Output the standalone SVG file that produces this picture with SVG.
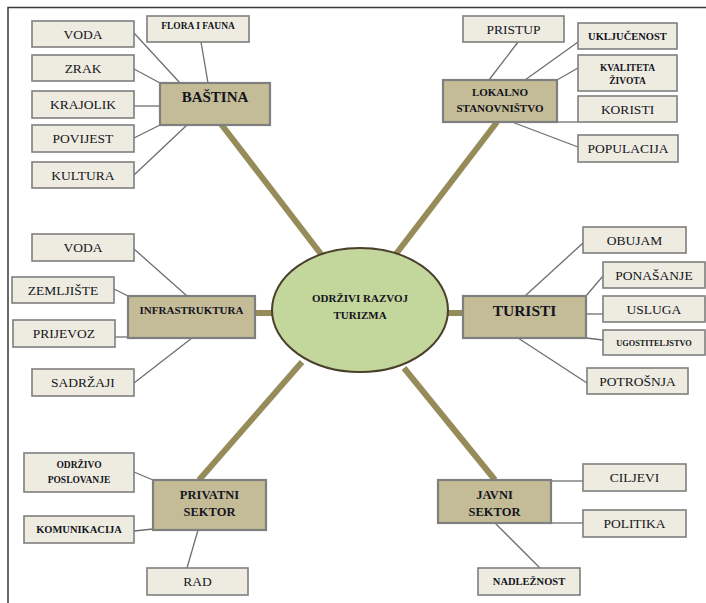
<svg xmlns="http://www.w3.org/2000/svg" width="706" height="603" viewBox="0 0 706 603">
<style>
.frame{stroke:#3a3a3a;stroke-width:1.5;fill:none}
.main{fill:#c4bc96;stroke:#7f7f7f;stroke-width:2.2}
.leaf{fill:#eeece1;stroke:#7f7f7f;stroke-width:1.6}
.thick{stroke:#968c5a;stroke-width:6;fill:none}
.thin{stroke:#6e6e6e;stroke-width:1.3;fill:none}
text{font-family:"Liberation Serif","Times New Roman",serif;fill:#141420;text-anchor:middle}
.t{font-size:13.5px}
.b{font-weight:bold}
.s{font-weight:bold;font-size:9.5px}
.s2{font-weight:bold;font-size:10.5px}
</style>
<rect width="706" height="603" fill="#ffffff"/>
<path class="frame" d="M8,603 V7.5 H706"/>
<g id="connectors">
<line class="thick" x1="221" y1="124" x2="324" y2="258"/>
<line class="thick" x1="497" y1="122" x2="396" y2="254"/>
<line class="thick" x1="255" y1="313" x2="273" y2="313"/>
<line class="thick" x1="447" y1="313" x2="463" y2="313"/>
<line class="thick" x1="302" y1="362" x2="199" y2="480"/>
<line class="thick" x1="404" y1="368" x2="495" y2="480"/>
<line class="thin" x1="134" y1="33" x2="180" y2="83"/>
<line class="thin" x1="201" y1="42" x2="208" y2="83"/>
<line class="thin" x1="134" y1="69" x2="160" y2="83"/>
<line class="thin" x1="134" y1="106" x2="160" y2="106"/>
<line class="thin" x1="134" y1="138" x2="160" y2="125"/>
<line class="thin" x1="134" y1="175" x2="187" y2="125"/>
<line class="thin" x1="518" y1="42" x2="489" y2="80"/>
<line class="thin" x1="578" y1="42" x2="525" y2="80"/>
<line class="thin" x1="578" y1="68" x2="557" y2="80"/>
<line class="thin" x1="557" y1="122" x2="578" y2="122"/>
<line class="thin" x1="512" y1="122" x2="578" y2="147"/>
<line class="thin" x1="134" y1="249" x2="187" y2="296"/>
<line class="thin" x1="114" y1="289" x2="128" y2="296"/>
<line class="thin" x1="115" y1="337" x2="128" y2="337"/>
<line class="thin" x1="134" y1="383" x2="192" y2="338"/>
<line class="thin" x1="583" y1="243" x2="525" y2="296"/>
<line class="thin" x1="603" y1="276" x2="586" y2="296"/>
<line class="thin" x1="586" y1="314" x2="603" y2="314"/>
<line class="thin" x1="586" y1="338" x2="603" y2="340"/>
<line class="thin" x1="518" y1="338" x2="587" y2="383"/>
<line class="thin" x1="134" y1="472" x2="153" y2="480"/>
<line class="thin" x1="134" y1="531" x2="153" y2="529"/>
<line class="thin" x1="187" y1="568" x2="198" y2="530"/>
<line class="thin" x1="551" y1="481" x2="583" y2="481"/>
<line class="thin" x1="551" y1="523" x2="583" y2="523"/>
<line class="thin" x1="495" y1="523" x2="540" y2="568"/>
</g>
<g id="center">
<ellipse cx="360" cy="310" rx="88" ry="62" fill="#c3d69b" stroke="#4a3f2a" stroke-width="2"/>
<text class="b" x="360" y="302" font-size="11">ODRŽIVI RAZVOJ</text>
<text class="b" x="360" y="319" font-size="11">TURIZMA</text>
</g>
<g id="bastina">
<rect class="main" x="160" y="83" width="110" height="42"/>
<text class="b" x="215" y="102" font-size="15">BAŠTINA</text>
</g>
<g id="b-voda"><rect class="leaf" x="32" y="21" width="102" height="26"/><text class="t" x="83" y="38.5">VODA</text></g>
<g id="b-flora"><rect class="leaf" x="147" y="16" width="102" height="26"/><text class="s" x="198" y="29">FLORA I FAUNA</text></g>
<g id="b-zrak"><rect class="leaf" x="32" y="55" width="102" height="26"/><text class="t" x="83" y="72.5">ZRAK</text></g>
<g id="b-krajolik"><rect class="leaf" x="32" y="91" width="102" height="27"/><text class="t" x="83" y="109">KRAJOLIK</text></g>
<g id="b-povijest"><rect class="leaf" x="32" y="125" width="102" height="27"/><text class="t" x="83" y="143">POVIJEST</text></g>
<g id="b-kultura"><rect class="leaf" x="32" y="162" width="102" height="26"/><text class="t" x="83" y="179.5">KULTURA</text></g>
<g id="lokalno">
<rect class="main" x="443" y="80" width="114" height="42"/>
<text class="b" x="500" y="96" font-size="11">LOKALNO</text>
<text class="b" x="500" y="112" font-size="11">STANOVNIŠTVO</text>
</g>
<g id="l-pristup"><rect class="leaf" x="463" y="16" width="101" height="26"/><text class="t" x="513.5" y="33.5">PRISTUP</text></g>
<g id="l-ukljucenost"><rect class="leaf" x="578" y="23" width="99" height="26"/><text class="s2" x="627.5" y="39.5">UKLJUČENOST</text></g>
<g id="l-kvaliteta"><rect class="leaf" x="578" y="55" width="99" height="36"/><text class="s" x="627.5" y="70.5">KVALITETA</text><text class="s" x="627.5" y="83.5">ŽIVOTA</text></g>
<g id="l-koristi"><rect class="leaf" x="578" y="96" width="99" height="26"/><text class="t" x="627.5" y="113.5">KORISTI</text></g>
<g id="l-populacija"><rect class="leaf" x="578" y="135" width="100" height="27"/><text class="t" x="628" y="153">POPULACIJA</text></g>
<g id="infrastruktura">
<rect class="main" x="128" y="296" width="127" height="42"/>
<text class="b" x="191.5" y="314" font-size="11">INFRASTRUKTURA</text>
</g>
<g id="i-voda"><rect class="leaf" x="32" y="234" width="102" height="27"/><text class="t" x="83" y="252">VODA</text></g>
<g id="i-zemljiste"><rect class="leaf" x="12" y="277" width="102" height="26"/><text class="t" x="63" y="294.5">ZEMLJIŠTE</text></g>
<g id="i-prijevoz"><rect class="leaf" x="13" y="320" width="102" height="27"/><text class="t" x="64" y="338">PRIJEVOZ</text></g>
<g id="i-sadrzaji"><rect class="leaf" x="32" y="369" width="102" height="27"/><text class="t" x="83" y="387">SADRŽAJI</text></g>
<g id="turisti">
<rect class="main" x="463" y="296" width="123" height="42"/>
<text class="b" x="524.5" y="315.5" font-size="15.5">TURISTI</text>
</g>
<g id="t-obujam"><rect class="leaf" x="583" y="227" width="103" height="26"/><text class="t" x="634.5" y="244.5">OBUJAM</text></g>
<g id="t-ponasanje"><rect class="leaf" x="603" y="262" width="102" height="26"/><text class="t" x="654" y="279.5">PONAŠANJE</text></g>
<g id="t-usluga"><rect class="leaf" x="603" y="296" width="102" height="26"/><text class="t" x="654" y="313.5">USLUGA</text></g>
<g id="t-ugostiteljstvo"><rect class="leaf" x="603" y="330" width="102" height="25"/><text class="b" x="654" y="345.5" font-size="8.3">UGOSTITELJSTVO</text></g>
<g id="t-potrosnja"><rect class="leaf" x="587" y="368" width="101" height="26"/><text class="t" x="637.5" y="385.5">POTROŠNJA</text></g>
<g id="privatni">
<rect class="main" x="153" y="480" width="113" height="50"/>
<text class="b" x="209.5" y="498.5" font-size="12.5">PRIVATNI</text>
<text class="b" x="209.5" y="515.5" font-size="12.5">SEKTOR</text>
</g>
<g id="p-odrzivo"><rect class="leaf" x="24" y="453" width="110" height="39"/><text class="s" x="79" y="467.5">ODRŽIVO</text><text class="s" x="79" y="482.5">POSLOVANJE</text></g>
<g id="p-komunikacija"><rect class="leaf" x="24" y="516" width="110" height="27"/><text class="s2" x="79" y="533">KOMUNIKACIJA</text></g>
<g id="p-rad"><rect class="leaf" x="147" y="568" width="101" height="27"/><text class="t" x="197.5" y="586">RAD</text></g>
<g id="javni">
<rect class="main" x="438" y="480" width="113" height="43"/>
<text class="b" x="494.5" y="498.5" font-size="12.5">JAVNI</text>
<text class="b" x="494.5" y="515.5" font-size="12.5">SEKTOR</text>
</g>
<g id="j-ciljevi"><rect class="leaf" x="583" y="464" width="103" height="27"/><text class="t" x="634.5" y="482">CILJEVI</text></g>
<g id="j-politika"><rect class="leaf" x="583" y="510" width="103" height="27"/><text class="t" x="634.5" y="528">POLITIKA</text></g>
<g id="j-nadleznost"><rect class="leaf" x="478" y="568" width="102" height="27"/><text class="s2" x="529" y="585">NADLEŽNOST</text></g>
</svg>
